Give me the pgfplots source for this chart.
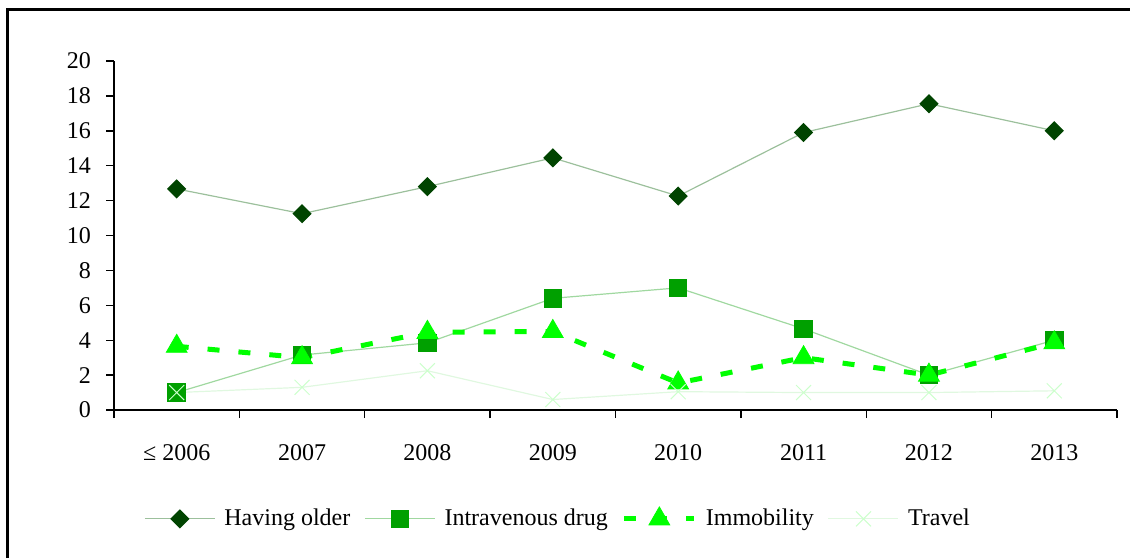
\documentclass[border=0pt]{standalone}
\usepackage{fontspec}
\setmainfont{Liberation Serif}
\usepackage{pgfplots}
\pgfplotsset{compat=1.18}
\definecolor{olderdark}{HTML}{004400}
\definecolor{olderline}{HTML}{9CC09C}
\definecolor{ivmark}{HTML}{00A000}
\definecolor{ivline}{HTML}{A0D8A0}
\definecolor{immo}{HTML}{00FF00}
\definecolor{travmark}{HTML}{CCFFCC}
\definecolor{travline}{HTML}{E0F8E0}
\begin{document}
\begin{tikzpicture}
\useasboundingbox (0,0) rectangle (565pt,279pt);
\draw[line width=1.5pt] (3.5pt,0pt) -- (3.5pt,274.2pt) -- (565pt,274.2pt);
\begin{axis}[
  at={(57pt,74pt)}, anchor=south west,
  scale only axis, width=501.5pt, height=174.5pt,
  xmin=-0.5, xmax=7.5, ymin=0, ymax=20,
  axis lines=left, axis line style={-, black, line width=0.7pt},
  tick align=outside, major tick length=4pt,
  tick style={black, line width=0.7pt},
  ytick={0,2,...,20},
  xtick={-0.5,0.5,...,7.5},
  x tick label as interval,
  xticklabels={≤ 2006,2007,2008,2009,2010,2011,2012,2013},
  /pgf/number format/assume math mode=true,
  ticklabel style={font=\fontsize{12}{14}\selectfont},
  xticklabel style={yshift=-9.5pt},
  yticklabel style={xshift=-4pt},
  legend columns=4,
  legend style={draw=none, fill=none, at={(0.4437,-0.312)}, anchor=center,
    font=\fontsize{12}{14}\selectfont,
    /tikz/every odd column/.append style={column sep=2.5pt},
    /tikz/every even column/.append style={column sep=5pt}},
  legend image code/.code={\draw[mark repeat=2,mark phase=2,#1] plot coordinates {(0pt,0pt)(17.5pt,0pt)(35pt,0pt)};},
]
\addplot[color=olderline, line width=0.6pt, mark=square*, mark size=3.1pt,
  mark options={rotate=45, draw=olderdark, fill=olderdark, solid}]
  coordinates {(0,12.67)(1,11.25)(2,12.8)(3,14.45)(4,12.26)(5,15.9)(6,17.55)(7,16.0)};
\addlegendentry{Having older}
\addplot[color=ivline, line width=0.6pt, mark=square*, mark size=4.3pt,
  mark options={draw=ivmark, fill=ivmark, solid}]
  coordinates {(0,1.0)(1,3.15)(2,3.85)(3,6.4)(4,7.0)(5,4.65)(6,2.0)(7,4.0)};
\addlegendentry{Intravenous drug}
\addplot[color=immo, line width=2.5pt, dash pattern=on 6pt off 9.5pt, mark=triangle*, mark size=6pt,
  mark options={draw=immo, fill=immo, solid, line width=0.4pt}]
  coordinates {(0,3.65)(1,3.0)(2,4.45)(3,4.5)(4,1.55)(5,3.0)(6,2.0)(7,3.85)};
\addlegendentry{Immobility}
\addplot[color=travline, line width=0.6pt, mark=x, mark size=5.3pt,
  mark options={draw=travmark, solid, line width=0.5pt}]
  coordinates {(0,1.0)(1,1.3)(2,2.25)(3,0.6)(4,1.05)(5,1.0)(6,1.0)(7,1.1)};
\addlegendentry{Travel}
\end{axis}
\end{tikzpicture}
\end{document}
